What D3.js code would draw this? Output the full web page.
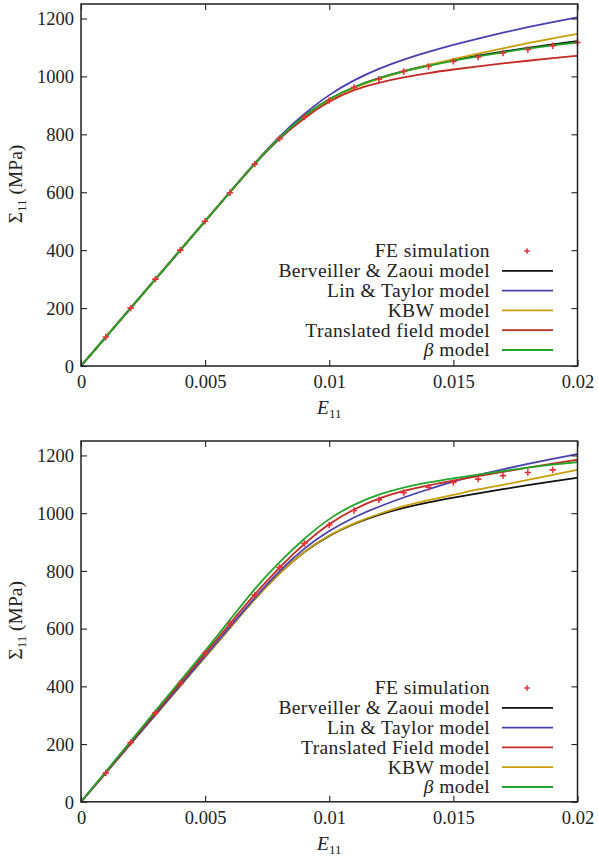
<!DOCTYPE html>
<html><head><meta charset="utf-8">
<script src="https://cdn.jsdelivr.net/npm/d3@7"></script>
<style>
html,body{margin:0;padding:0;background:#fff;}
svg{display:block;}
text{font-family:"Liberation Serif","Times New Roman",serif;fill:#222;}
</style></head>
<body>
<svg id="c" width="598" height="856"></svg>
<script>
// ---------- data ----------
const strain = [0,0.001,0.002,0.003,0.004,0.005,0.006,0.007,0.008,0.009,0.010,0.011,0.012,0.013,0.014,0.015,0.016,0.017,0.018,0.019,0.020];
const xTicks = [0,0.005,0.01,0.015,0.02];
const xTickLabels = ["0","0.005","0.01","0.015","0.02"];
const yTicks = [0,200,400,600,800,1000,1200];

// top panel
const topFE    = [null,100,200,300,400,500,598,697,785,860,917,962,990,1017,1034,1052,1067,1081,1093,1106,1117];
const topBZ    = [0,100,200,300,400,500,600,700,790,866,924,964,995,1019,1039,1057,1072,1086,1099,1111,1122];
const topLT    = [0,100,200,300,400,500,601,702,795,872,938,988,1027,1059,1085,1109,1131,1151,1170,1188,1204];
const topKBW   = [0,100,200,300,400,500,600,700,790,864,922,962,992,1017,1039,1060,1079,1097,1115,1131,1147];
const topTF    = [0,100,200,300,400,500,600,699,787,858,915,955,979,997,1012,1024,1035,1045,1054,1063,1071];
const topBeta  = [0,100,200,300,400,500,600,700,790,866,924,964,995,1018,1037,1054,1069,1083,1096,1107,1117];

// bottom panel
const botFE    = [null,100,205,308,410,515,617,717,812,895,959,1009,1046,1071,1090,1106,1118,1130,1141,1150,null];
const botBZ    = [0,100,201,301,402,502,603,703,795,868,924,964,995,1019,1038,1054,1069,1083,1097,1110,1123];
const botLT    = [0,101,202,303,404,505,607,708,802,880,940,987,1023,1055,1083,1110,1133,1152,1171,1188,1205];
const botTF    = [0,103,206,309,412,514,617,720,813,896,965,1015,1052,1078,1097,1113,1128,1143,1158,1172,1185];
const botKBW   = [0,100,201,301,402,502,603,703,795,868,925,966,998,1025,1046,1063,1083,1098,1115,1133,1150];
const botBeta  = [0,105,210,315,420,522,630,740,832,913,983,1031,1066,1090,1107,1121,1134,1146,1158,1168,1177];

const colors = {BZ:"#111111", LT:"#4a3fb0", KBW:"#c9a00a", TF:"#c42a25", Beta:"#22a62a", FE:"#e8303a"};

const panels = [
  {top:4, bottom:366, fe:topFE,
   series:[{k:"BZ",v:topBZ},{k:"LT",v:topLT},{k:"KBW",v:topKBW},{k:"TF",v:topTF},{k:"Beta",v:topBeta}],
   legend:[{label:"FE simulation",k:"FE"},{label:"Berveiller & Zaoui model",k:"BZ"},{label:"Lin & Taylor model",k:"LT"},
           {label:"KBW model",k:"KBW"},{label:"Translated field model",k:"TF"},{label:"β model",k:"Beta"}],
   legendY:251},
  {top:441, bottom:801.8, fe:botFE,
   series:[{k:"BZ",v:botBZ},{k:"KBW",v:botKBW},{k:"LT",v:botLT},{k:"TF",v:botTF},{k:"Beta",v:botBeta}],
   legend:[{label:"FE simulation",k:"FE"},{label:"Berveiller & Zaoui model",k:"BZ"},{label:"Lin & Taylor model",k:"LT"},
           {label:"Translated Field model",k:"TF"},{label:"KBW model",k:"KBW"},{label:"β model",k:"Beta"}],
   legendY:688}
];

const svg = d3.select("#c");
const L = 81, R = 577.5;
const fs = 18.5;

panels.forEach(p => {
  const x = d3.scaleLinear().domain([0,0.02]).range([L,R]);
  const y = d3.scaleLinear().domain([0,1250]).range([p.bottom,p.top]);
  const g = svg.append("g");

  // curves
  const line = d3.line().x((d,i)=>x(strain[i])).y(d=>y(d)).curve(d3.curveBasis);
  p.series.forEach(s => {
    g.append("path").datum(s.v).attr("d", line)
      .attr("fill","none").attr("stroke",colors[s.k]).attr("stroke-width",1.8);
  });
  // FE markers
  const pts = strain.map((e,i)=>({e, v:p.fe[i]})).filter(d=>d.v!=null);
  const m = g.append("g");
  pts.forEach(d=>{
    const cx = x(d.e), cy = y(d.v), r = 3.2;
    m.append("path").attr("d",`M${cx-r},${cy}H${cx+r}M${cx},${cy-r}V${cy+r}`)
      .attr("stroke",colors.FE).attr("stroke-width",1.6).attr("fill","none");
  });

  // axes (inward ticks on all sides)
  const ax = g.append("g").attr("transform",`translate(0,${p.bottom})`)
    .call(d3.axisBottom(x).tickValues(xTicks).tickSizeInner(-6).tickSizeOuter(0).tickFormat((d,i)=>xTickLabels[i]));
  const axT = g.append("g").attr("transform",`translate(0,${p.top})`)
    .call(d3.axisTop(x).tickValues(xTicks).tickSizeInner(-6).tickSizeOuter(0).tickFormat(""));
  const ay = g.append("g").attr("transform",`translate(${L},0)`)
    .call(d3.axisLeft(y).tickValues(yTicks).tickSizeInner(-6).tickSizeOuter(0).tickFormat(d3.format("d")));
  const ayR = g.append("g").attr("transform",`translate(${R},0)`)
    .call(d3.axisRight(y).tickValues(yTicks).tickSizeInner(-6).tickSizeOuter(0).tickFormat(""));
  [ax,axT,ay,ayR].forEach(a=>{
    a.select(".domain").remove();
    a.selectAll("line").attr("stroke","#222").attr("stroke-width",1.1);
    a.selectAll("text").attr("font-family","Liberation Serif, serif").attr("font-size",fs).attr("fill","#222");
  });
  ax.selectAll("text").attr("y",9).attr("dy","0.71em");
  ay.selectAll("text").attr("x",-7).attr("dy","0.34em");

  // frame
  g.append("rect").attr("x",L).attr("y",p.top).attr("width",R-L).attr("height",p.bottom-p.top)
    .attr("fill","none").attr("stroke","#222").attr("stroke-width",1.5);

  // axis titles
  const xt = g.append("text").attr("x",(L+R)/2).attr("y",p.bottom+48).attr("text-anchor","middle").attr("font-size",fs+1);
  xt.append("tspan").attr("font-style","italic").text("E");
  xt.append("tspan").attr("font-size",13).attr("dy",4).text("11");

  const cy = (p.top+p.bottom)/2 - 1;
  const yt = g.append("text").attr("transform",`translate(22,${cy}) rotate(-90)`).attr("text-anchor","middle").attr("font-size",fs+1);
  yt.append("tspan").text("Σ");
  yt.append("tspan").attr("font-size",13).attr("dy",4).text("11");
  yt.append("tspan").attr("dy",-4).text(" (MPa)");

  // legend
  p.legend.forEach((it,i)=>{
    const ly = p.legendY + i*19.8;
    const t = g.append("text").attr("x",490).attr("y",ly).attr("dy","0.33em").attr("text-anchor","end")
      .attr("font-size",19.5).attr("letter-spacing","0.4px");
    if (it.label.startsWith("β")) {
      t.append("tspan").attr("font-style","italic").text("β");
      t.append("tspan").text(it.label.slice(1));
    } else t.text(it.label);
    if (it.k==="FE") {
      const cx=527, r=2.8;
      g.append("path").attr("d",`M${cx-r},${ly}H${cx+r}M${cx},${ly-r}V${ly+r}`)
        .attr("stroke",colors.FE).attr("stroke-width",1.5);
    } else {
      g.append("line").attr("x1",502).attr("x2",553).attr("y1",ly).attr("y2",ly)
        .attr("stroke",colors[it.k]).attr("stroke-width",1.8);
    }
  });
});
</script>
</body></html>
